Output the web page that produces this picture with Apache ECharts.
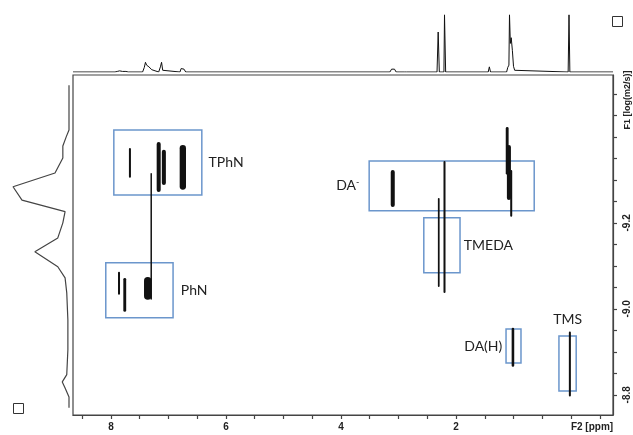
<!DOCTYPE html>
<html><head><meta charset="utf-8">
<script src="https://cdn.jsdelivr.net/npm/echarts@6/dist/echarts.min.js"></script>
<style>html,body{margin:0;padding:0;background:#fff}#c{width:633px;height:435px}</style>
</head><body><div id="c"></div>
<script>
// ---- data ----
const xTickValues = [8.5,8,7.5,7,6.5,6,5.5,5,4.5,4,3.5,3,2.5,2,1.5,1,0.5,0,-0.5];
const xLabelValues = [8,6,4,2,0];
const yTickValues = [-9.5,-9.45,-9.4,-9.35,-9.3,-9.25,-9.2,-9.15,-9.1,-9.05,-9.0,-8.95,-8.9,-8.85,-8.8];
const yLabelValues = [-9.2,-9.0,-8.8];

const boxNames = ['TPhN','PhN','DA-','TMEDA','DA(H)','TMS'];
const boxPpm   = [[7.95,6.42],[8.09,6.92],[3.51,0.64],[2.56,1.93],[1.13,0.87],[0.21,-0.09]];
const boxLogD  = [[-9.416,-9.265],[-9.107,-8.979],[-9.344,-9.228],[-9.212,-9.084],[-8.953,-8.874],[-8.937,-8.809]];

// 2D cross peaks: chemical shift, logD top, logD bottom, width (ppm)
const peakPpm    = [7.67,7.17,7.08,6.75,7.30,7.86,7.76,7.36,3.10,1.11,1.08,1.04,2.30,2.20,1.01,0.02];
const peakTop    = [-9.374,-9.388,-9.370,-9.381,-9.316,-9.086,-9.072,-9.074,-9.323,-9.423,-9.381,-9.323,-9.258,-9.344,-8.956,-8.947];
const peakBottom = [-9.305,-9.272,-9.288,-9.277,-9.021,-9.033,-8.993,-9.021,-9.237,-9.312,-9.253,-9.214,-9.051,-9.037,-8.865,-8.796];
const peakWidth  = [0.035,0.07,0.07,0.11,0.026,0.035,0.05,0.13,0.07,0.05,0.07,0.035,0.03,0.035,0.045,0.035];

// 1D projection on top (F2)
const topPpm = [8.66,7.93,7.91,7.89,7.87,7.85,7.83,7.80,7.77,7.74,7.70,7.45,7.42,7.40,7.38,7.36,7.34,7.32,7.29,7.27,7.17,7.14,7.12,7.10,7.07,6.80,6.78,6.76,6.73,6.70,3.15,3.12,3.10,3.07,3.04,2.90,2.88,2.86,2.33,2.31,2.29,2.21,2.20,2.18,1.44,1.42,1.40,1.12,1.10,1.08,1.07,1.055,1.04,1.02,1.00,0.98,0.96,0.05,0.035,0.02,-0.73];
const topInt = [0,0,3,1,4,2,4,1,3,1,0,0,8,17,12,15,9,11,4,2,0,9,17,3,0,0,6,8,5,0,0,5,8,5,0,0,2,0,0,70,0,0,100,0,0,9,0,0,8,12,100,50,60,38,10,3,0,0,100,0,0];

// 1D projection on the left (F1)
const leftLogD = [-9.52,-9.416,-9.400,-9.379,-9.351,-9.316,-9.284,-9.253,-9.226,-9.200,-9.165,-9.133,-9.098,-9.072,-9.037,-8.974,-8.905,-8.847,-8.830,-8.816,-8.795,-8.77];
const leftInt  = [0,0,5,11,11,25,100,84,7,11,20,61,20,7,4,2,2,4,12,7,0,0];

// ---- chart ----
const chart = echarts.init(document.getElementById('c'));
const F = 'Liberation Sans';
const axisCol = '#444';
const labelPos = {'TPhN':['right',6],'PhN':['right',7],'DA-':['left',9],'TMEDA':['right',3],'DA(H)':['left',3],'TMS':['top',9]};

const areas = boxNames.map((n,i)=>[
  {name:n, coord:[boxPpm[i][0], boxLogD[i][0]], label:{position:labelPos[n][0], distance:labelPos[n][1]}},
  {coord:[boxPpm[i][1], boxLogD[i][1]]}
]);

chart.setOption({
  animation:false,
  grid:[
    {left:73, right:20, top:75, bottom:20, show:true, borderColor:axisCol, borderWidth:1.2, backgroundColor:'transparent'},
    {left:73, right:20, top:12, height:60},
    {left:8, width:61, top:75, bottom:20}
  ],
  xAxis:[
    {gridIndex:0, type:'value', inverse:true, min:-0.73, max:8.66, position:'bottom',
     axisLine:{onZero:false, lineStyle:{color:axisCol,width:1.2}},
     axisTick:{show:true, customValues:xTickValues, length:4, lineStyle:{color:axisCol,width:1.2}},
     axisLabel:{customValues:xLabelValues, fontFamily:F, fontWeight:'bold', fontSize:10, color:'#222', margin:7,
       formatter:v=> v===0 ? '{u|F2 [ppm]}' : String(v),
       rich:{u:{fontFamily:F, fontWeight:'bold', fontSize:10, color:'#222', padding:[0,0,0,42]}}},
     splitLine:{show:false}},
    {gridIndex:1, type:'value', inverse:true, min:-0.73, max:8.66, show:false},
    {gridIndex:2, type:'value', inverse:true, min:0, max:109, show:false}
  ],
  yAxis:[
    {gridIndex:0, type:'value', inverse:true, min:-9.544, max:-8.753, position:'right',
     axisLine:{show:true, onZero:false, lineStyle:{color:axisCol,width:1.2}},
     axisTick:{show:true, customValues:yTickValues, length:4, lineStyle:{color:axisCol,width:1.2}},
     axisLabel:{customValues:yLabelValues, rotate:90, fontFamily:F, fontWeight:'bold', fontSize:10, color:'#222', margin:9,
       formatter:v=>v.toFixed(1)},
     splitLine:{show:false}},
    {gridIndex:1, type:'value', min:0, max:105, show:false},
    {gridIndex:2, type:'value', inverse:true, min:-9.544, max:-8.753, show:false}
  ],
  series:[
    {type:'custom', xAxisIndex:0, yAxisIndex:0,
     data: peakPpm.map((p,i)=>[p, peakTop[i], peakBottom[i], peakWidth[i]]),
     renderItem:(params, api)=>{
       const x=api.value(0), t=api.value(1), b=api.value(2), w=api.value(3);
       const p1=api.coord([x-w/2,t]), p2=api.coord([x+w/2,b]);
       const x0=Math.min(p1[0],p2[0]), y0=Math.min(p1[1],p2[1]);
       const ww=Math.abs(p2[0]-p1[0]), hh=Math.abs(p2[1]-p1[1]);
       return {type:'rect', shape:{x:x0,y:y0,width:ww,height:hh,r:ww/2}, style:{fill:'#111'}};
     },
     markArea:{silent:true,
       itemStyle:{color:'rgba(0,0,0,0)', borderColor:'#6b96cc', borderWidth:1.5},
       label:{show:true, fontFamily:'Lato', fontSize:14, color:'#222',
         formatter:p=> p.name==='DA-' ? 'DA{s|-}' : p.name,
         rich:{s:{fontFamily:'Lato', fontSize:9, color:'#222', padding:[0,0,8,0]}}},
       emphasis:{disabled:true},
       data:areas}
    },
    {type:'line', xAxisIndex:1, yAxisIndex:1, showSymbol:false, silent:true,
     lineStyle:{color:'#111', width:1},
     data: topPpm.map((p,i)=>[p, topInt[i]])},
    {type:'line', xAxisIndex:2, yAxisIndex:2, showSymbol:false, silent:true,
     lineStyle:{color:'#444', width:1.2},
     data: leftLogD.map((d,i)=>[leftInt[i], d])}
  ],
  graphic:[
    {type:'rect', left:612, top:16, shape:{width:10,height:10}, style:{fill:'#fff', stroke:'#333', lineWidth:1}},
    {type:'rect', left:13, top:403, shape:{width:10,height:10}, style:{fill:'#fff', stroke:'#333', lineWidth:1}},
    {type:'text', x:628, y:100, rotation:Math.PI/2,
     style:{text:'F1 [log(m2/s)]', font:'bold 9px "Liberation Sans"', fill:'#222', align:'center', verticalAlign:'middle'}}
  ]
});
</script></body></html>
